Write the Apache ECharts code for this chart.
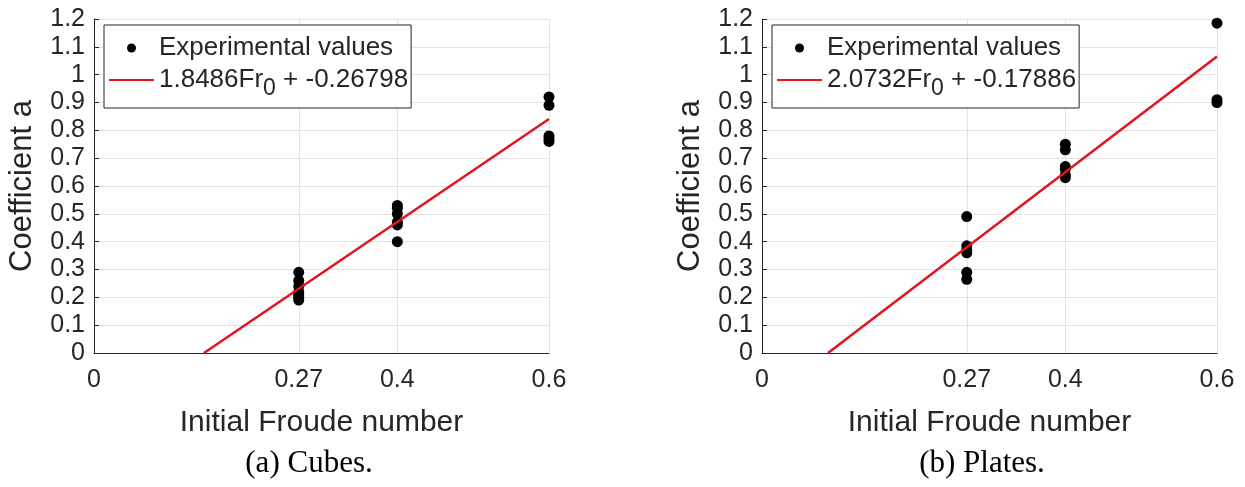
<!DOCTYPE html>
<html>
<head>
<meta charset="utf-8">
<script src="https://cdn.jsdelivr.net/npm/echarts@6/dist/echarts.min.js"></script>
<style>
  html, body { margin: 0; padding: 0; background: #fff; }
  #chart { width: 1245px; height: 487px; }
</style>
</head>
<body>
<div id="chart"></div>
<script>
// Cubes
var cubesFr = [0.27, 0.27, 0.27, 0.27, 0.27, 0.27, 0.27, 0.4, 0.4, 0.4, 0.4, 0.4, 0.4, 0.6, 0.6, 0.6, 0.6, 0.6]
var cubesA = [0.29, 0.26, 0.24, 0.22, 0.21, 0.2, 0.19, 0.53, 0.52, 0.5, 0.47, 0.46, 0.4, 0.92, 0.89, 0.78, 0.77, 0.76]
var cubesFitFr = [0.145, 0.6]
var cubesFitA = [0, 0.841]
var cubesFitName = '1.8486Fr0 + -0.26798'

// Plates
var platesFr = [0.27, 0.27, 0.27, 0.27, 0.27, 0.27, 0.4, 0.4, 0.4, 0.4, 0.4, 0.4, 0.6, 0.6, 0.6]
var platesA = [0.49, 0.385, 0.37, 0.36, 0.29, 0.265, 0.75, 0.73, 0.67, 0.66, 0.64, 0.63, 1.185, 0.91, 0.9]
var platesFitFr = [0.087, 0.6]
var platesFitA = [0, 1.065]
var platesFitName = '2.0732Fr0 + -0.17886'

var xTicks = [0, 0.27, 0.4, 0.6]
var xGridLines = [0.27, 0.4, 0.6]
var captions = ['(a) Cubes.', '(b) Plates.']

var txt = '#262626'
var font = 'Liberation Sans, Arial, sans-serif'

function pairs(xs, ys) {
    var out = []
    for (var i = 0; i < xs.length; i++) out.push([xs[i], ys[i]])
    return out
}

function makeX(idx) {
    return {
        gridIndex: idx,
        type: 'value',
        min: 0,
        max: 0.6,
        name: 'Initial Froude number',
        nameLocation: 'middle',
        nameGap: 55,
        nameTextStyle: { fontSize: 30, color: txt, fontFamily: font },
        axisLine: { lineStyle: { color: txt, width: 1 } },
        axisTick: { show: true, inside: true, length: 5, customValues: [0.27, 0.4], lineStyle: { color: txt } },
        axisLabel: { customValues: xTicks, fontSize: 25, color: txt, fontFamily: font, margin: 15 },
        splitLine: { show: false }
    }
}

function makeY(idx) {
    return {
        gridIndex: idx,
        type: 'value',
        min: 0,
        max: 1.2,
        interval: 0.1,
        name: 'Coefficient a',
        nameLocation: 'middle',
        nameGap: 56,
        nameTextStyle: { fontSize: 31, color: txt, fontFamily: font },
        axisLine: { show: true, lineStyle: { color: txt, width: 1 } },
        axisTick: { show: true, inside: true, length: 5, lineStyle: { color: txt } },
        axisLabel: { fontSize: 25, color: txt, fontFamily: font, margin: 9 },
        splitLine: { show: true, lineStyle: { color: '#e3e3e3', width: 1 } }
    }
}

function legendFmt(name) {
    return name.replace('Fr0', 'Fr{sub|0}')
}

function makeLegend(fitName, left) {
    return {
        orient: 'vertical',
        left: left,
        top: 25,
        z: 10,
        data: [
            { name: 'Experimental values', icon: 'circle' },
            { name: fitName, itemStyle: { opacity: 0, color: 'rgba(0,0,0,0)', borderWidth: 0 } }
        ],
        itemWidth: 45,
        itemHeight: 9,
        itemGap: 6,
        padding: [10, 3, 8, 4],
        backgroundColor: '#fff',
        borderColor: txt,
        borderWidth: 1,
        borderRadius: 0,
        selectedMode: false,
        formatter: legendFmt,
        textStyle: {
            fontSize: 26,
            color: txt,
            fontFamily: font,
            rich: {
                sub: { fontSize: 23, color: txt, fontFamily: font, padding: [17, 0, 0, 0] }
            }
        }
    }
}

function gridSeries(idx) {
    return {
        type: 'line',
        xAxisIndex: idx,
        yAxisIndex: idx,
        data: [],
        z: 1,
        silent: true,
        markLine: {
            z: 1,
            silent: true,
            symbol: 'none',
            label: { show: false },
            animation: false,
            lineStyle: { color: '#e3e3e3', type: 'solid', width: 1 },
            data: xGridLines.map(function(v) { return { xAxis: v } })
        }
    }
}

function dots(idx, xs, ys) {
    return {
        name: 'Experimental values',
        type: 'scatter',
        xAxisIndex: idx,
        yAxisIndex: idx,
        symbolSize: 11,
        itemStyle: { color: '#000', opacity: 1 },
        z: 2,
        data: pairs(xs, ys)
    }
}

function fit(idx, name, xs, ys) {
    return {
        name: name,
        type: 'line',
        xAxisIndex: idx,
        yAxisIndex: idx,
        symbol: 'none',
        showSymbol: false,
        lineStyle: { color: '#e3141b', width: 2.5 },
        itemStyle: { color: '#e3141b' },
        z: 3,
        data: pairs(xs, ys)
    }
}

var capStyle = { fontFamily: 'Liberation Serif, serif', fontSize: 31, fontWeight: 'normal', color: '#000' }

var chart = echarts.init(document.getElementById('chart'))
chart.setOption({
    animation: false,
    backgroundColor: '#fff',
    title: [
        { text: captions[0], left: 304, top: 443, textAlign: 'center', textStyle: capStyle },
        { text: captions[1], left: 977, top: 443, textAlign: 'center', textStyle: capStyle }
    ],
    legend: [makeLegend(cubesFitName, 104), makeLegend(platesFitName, 772)],
    grid: [
        { left: 94, right: 696, top: 19, bottom: 134, outerBoundsMode: 'none' },
        { left: 762, right: 28, top: 19, bottom: 134, outerBoundsMode: 'none' }
    ],
    xAxis: [makeX(0), makeX(1)],
    yAxis: [makeY(0), makeY(1)],
    series: [
        gridSeries(0),
        dots(0, cubesFr, cubesA),
        fit(0, cubesFitName, cubesFitFr, cubesFitA),
        gridSeries(1),
        dots(1, platesFr, platesA),
        fit(1, platesFitName, platesFitFr, platesFitA)
    ]
})
</script>
</body>
</html>
